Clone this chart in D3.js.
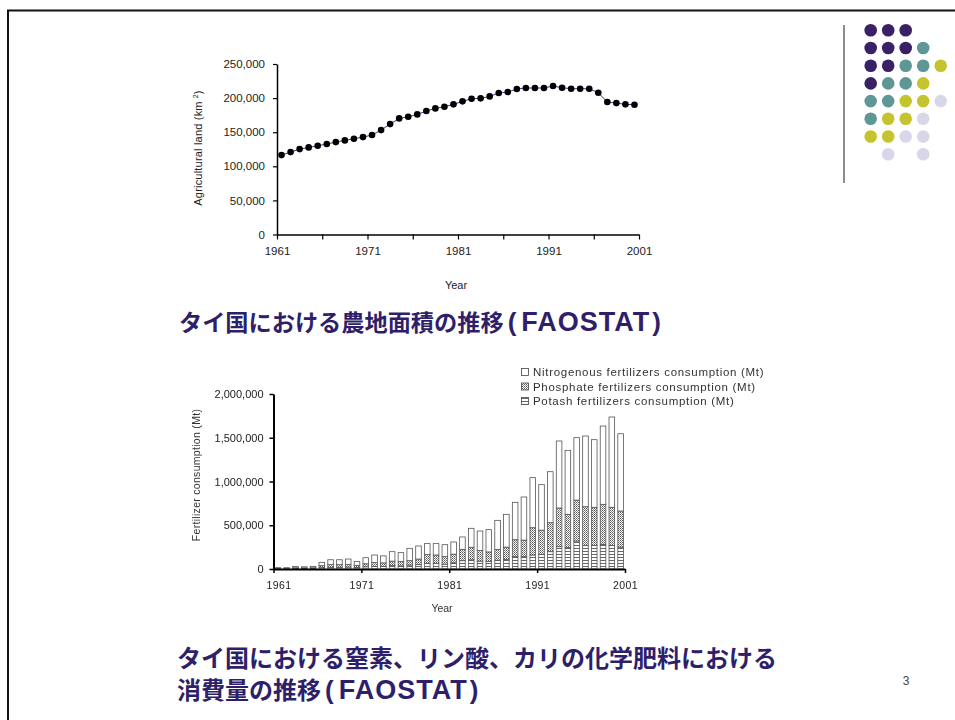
<!DOCTYPE html>
<html>
<head>
<meta charset="utf-8">
<script src="https://cdn.jsdelivr.net/npm/d3@7"></script>
<style>
  html, body { margin: 0; padding: 0; background: #fff; }
  svg { display: block; }
  .tick text { font-family: "Liberation Sans", Arial, sans-serif; fill: #222; }
</style>
</head>
<body>
<svg id="slide" width="955" height="720"></svg>
<script>
// ---- Agricultural land, Thailand (km²), 1961–2000 ----
const landYears = d3.range(1961, 2001);
const landArea = [
  116400, 120800, 125200, 127700, 130100, 132600, 135500, 138000, 140400, 142800,
  145800, 153100, 161900, 170200, 172700, 176100, 181000, 184900, 187400, 190800,
  195200, 199100, 199600, 202500, 207400, 208900, 213300, 214800, 214800, 214800,
  217700, 215200, 213800, 213800, 213800, 207900, 194200, 192700, 190800, 190300
];
const landTicksY = [0, 50000, 100000, 150000, 200000, 250000];
const landTicksX = [1961, 1966, 1971, 1976, 1981, 1986, 1991, 1996, 2001];
const landLabelsX = [1961, 1971, 1981, 1991, 2001];

// ---- Fertilizer consumption, Thailand (t), 1961–2000 ----
const fertYears = d3.range(1961, 2001);
const nitrogen = [
  8000, 8000, 16000, 13000, 16000, 38000, 56000, 56000, 62000, 45000,
  69000, 85000, 80000, 108000, 102000, 141000, 149000, 125000, 130000, 137000,
  139000, 141000, 217000, 221000, 255000, 334000, 375000, 427000, 493000, 572000,
  520000, 583000, 766000, 731000, 714000, 808000, 773000, 895000, 1032000, 883000
];
const phosphate = [
  5000, 5000, 9000, 8000, 9000, 23000, 30000, 30000, 30000, 25000,
  35000, 45000, 42000, 52000, 50000, 50000, 64000, 100000, 95000, 86000,
  100000, 130000, 143000, 123000, 110000, 122000, 140000, 194000, 189000, 312000,
  276000, 331000, 442000, 381000, 467000, 445000, 438000, 457000, 438000, 413000
];
const potash = [
  2000, 2000, 5000, 4000, 5000, 15000, 20000, 20000, 22000, 17000,
  25000, 30000, 28000, 38000, 35000, 45000, 50000, 65000, 65000, 55000,
  70000, 95000, 105000, 90000, 85000, 100000, 110000, 141000, 141000, 160000,
  168000, 198000, 255000, 244000, 320000, 267000, 267000, 282000, 267000, 250000
];
const fertTicksY = [0, 500000, 1000000, 1500000, 2000000];
const fertLabelsX = [1961, 1971, 1981, 1991, 2001];
const fertSeries = [
  "Nitrogenous fertilizers consumption (Mt)",
  "Phosphate fertilizers consumption (Mt)",
  "Potash fertilizers consumption (Mt)"
];

// ---- Slide texts: Japanese part, then the source tag ----
const title1 = "タイ国における農地面積の推移";
const title2 = ["タイ国における窒素、リン酸、カリの化学肥料における", "消費量の推移"];
const sourceTag = "FAOSTAT";
const pageNumber = "3";

// ---- Corner dot ornament (P purple, T teal, Y olive, L lavender) ----
const ornamentRows = ["PPP..", "PPPT.", "PPTTY", "PTTY.", "TTYYL", "TYYL.", "YYLL.", ".L.L."];
const ornamentColors = { P: "#3a2166", T: "#5f9696", Y: "#c6c42e", L: "#d8d7ea" };

const svg = d3.select("#slide");
const sans = '"Liberation Sans", Arial, sans-serif';
const jp = '"Noto Sans CJK JP", "Noto Sans CJK SC", sans-serif';
const titleColor = "#2f1f6b";

// Slide frame
svg.append("line").attr("x1", 7).attr("x2", 955).attr("y1", 10.5).attr("y2", 10.5)
  .attr("stroke", "#111").attr("stroke-width", 2);
svg.append("line").attr("x1", 8).attr("x2", 8).attr("y1", 10).attr("y2", 720)
  .attr("stroke", "#111").attr("stroke-width", 2);

// Ornament
svg.append("line").attr("x1", 844).attr("x2", 844).attr("y1", 25).attr("y2", 183)
  .attr("stroke", "#666").attr("stroke-width", 1.5);
const orn = svg.append("g");
ornamentRows.forEach((row, r) => {
  row.split("").forEach((c, k) => {
    if (c === ".") return;
    orn.append("circle")
      .attr("cx", 870.7 + k * 17.5).attr("cy", 30.3 + r * 17.7).attr("r", 6.3)
      .attr("fill", ornamentColors[c]);
  });
});

// Title helper: bold Japanese text followed by "(FAOSTAT)" in a bold Latin face
function title(x, y, jpText, size, withTag) {
  const t = svg.append("text").attr("x", x).attr("y", y).attr("fill", titleColor)
    .style("font-weight", 700);
  t.append("tspan").style("font-family", jp).style("font-size", size + "px").text(jpText);
  if (withTag) {
    t.append("tspan").attr("dx", 4).style("font-family", sans).style("font-size", "26px").text("(");
    t.append("tspan").attr("dx", 5).style("font-family", sans).style("font-size", "27px")
      .style("letter-spacing", "1px").text(sourceTag);
    t.append("tspan").attr("dx", 2).style("font-family", sans).style("font-size", "26px").text(")");
  }
}

// =========== Chart 1: agricultural land ===========
const xL = d3.scaleLinear().domain([1961, 2001]).range([277, 639]);
const yL = d3.scaleLinear().domain([0, 250000]).range([234.5, 64]);
const stepL = xL(1962) - xL(1961);

const g1 = svg.append("g");
const ax1y = g1.append("g").attr("transform", `translate(${xL(1961)},0)`)
  .call(d3.axisLeft(yL).tickValues(landTicksY).tickSize(4).tickSizeOuter(0)
    .tickPadding(8).tickFormat(d3.format(",")));
const ax1x = g1.append("g").attr("transform", `translate(0,${yL(0)})`)
  .call(d3.axisBottom(xL).tickValues(landTicksX).tickSize(5).tickSizeOuter(0).tickPadding(7)
    .tickFormat(d => landLabelsX.includes(d) ? d : ""));
[ax1y, ax1x].forEach(a => {
  a.select(".domain").attr("stroke", "#000").attr("stroke-width", 1.5);
  a.selectAll(".tick line").attr("stroke", "#000").attr("stroke-width", 1.2);
  a.selectAll(".tick text").style("font-size", "11.5px").attr("fill", "#222");
});

const line1 = d3.line().x((d, i) => xL(landYears[i]) + stepL / 2).y(d => yL(d));
g1.append("path").datum(landArea).attr("d", line1)
  .attr("fill", "none").attr("stroke", "#3a3a8c").attr("stroke-width", 1);
g1.selectAll("circle.pt").data(landArea).join("circle").attr("class", "pt")
  .attr("cx", (d, i) => xL(landYears[i]) + stepL / 2).attr("cy", d => yL(d))
  .attr("r", 3.3).attr("fill", "#000");

const yl1 = g1.append("text").attr("transform", "translate(202,148) rotate(-90)")
  .attr("text-anchor", "middle").style("font-family", sans).style("font-size", "11px")
  .style("letter-spacing", "0.2px").attr("fill", "#222");
yl1.append("tspan").text("Agricultural land (km");
yl1.append("tspan").attr("dx", 3).attr("dy", -4).style("font-size", "7px").text("2");
yl1.append("tspan").attr("dy", 4).text(")");
g1.append("text").attr("x", 456).attr("y", 289).attr("text-anchor", "middle")
  .style("font-family", sans).style("font-size", "11px").attr("fill", "#222").text("Year");

title(179, 331, title1, 23.2, true);

// =========== Chart 2: fertilizer consumption ===========
const defs = svg.append("defs");
const blur = defs.append("filter").attr("id", "soft");
blur.append("feGaussianBlur").attr("stdDeviation", 0.35);

const pP = defs.append("pattern").attr("id", "patP").attr("patternUnits", "userSpaceOnUse")
  .attr("width", 2).attr("height", 2);
pP.append("rect").attr("width", 2).attr("height", 2).attr("fill", "#fff");
pP.append("rect").attr("width", 1).attr("height", 1).attr("fill", "#555");
pP.append("rect").attr("x", 1).attr("y", 1).attr("width", 1).attr("height", 1).attr("fill", "#888");

const pK = defs.append("pattern").attr("id", "patK").attr("patternUnits", "userSpaceOnUse")
  .attr("width", 3).attr("height", 3);
pK.append("rect").attr("width", 3).attr("height", 3).attr("fill", "#fff");
pK.append("rect").attr("y", 2).attr("width", 3).attr("height", 1).attr("fill", "#666");

const fills = { nitrogen: "#fff", phosphate: "url(#patP)", potash: "url(#patK)" };

const xF = d3.scaleLinear().domain([1961, 2001]).range([273.5, 625]);
const yF = d3.scaleLinear().domain([0, 2000000]).range([569, 394]);
const stepF = xF(1962) - xF(1961);
const barW = 5.6;

const table = fertYears.map((y, i) => ({ year: y, nitrogen: nitrogen[i], phosphate: phosphate[i], potash: potash[i] }));
const stacked = d3.stack().keys(["potash", "phosphate", "nitrogen"])(table);

const g2 = svg.append("g").attr("filter", "url(#soft)");
stacked.forEach(layer => {
  g2.append("g").selectAll("rect").data(layer).join("rect")
    .attr("x", d => xF(d.data.year) + stepF / 2 - barW / 2)
    .attr("width", barW)
    .attr("y", d => yF(d[1]))
    .attr("height", d => yF(d[0]) - yF(d[1]))
    .attr("fill", fills[layer.key])
    .attr("stroke", "#555").attr("stroke-width", 0.8);
});

const ax2y = g2.append("g").attr("transform", `translate(${xF(1961)},0)`)
  .call(d3.axisLeft(yF).tickValues(fertTicksY).tickSize(4).tickSizeOuter(0)
    .tickPadding(6).tickFormat(d3.format(",")));
const ax2x = g2.append("g").attr("transform", `translate(0,${yF(0)})`)
  .call(d3.axisBottom(xF).tickValues(fertLabelsX).tickSize(4).tickSizeOuter(0).tickPadding(9)
    .tickFormat(d3.format("d")));
[ax2y, ax2x].forEach(a => {
  a.select(".domain").attr("stroke", "#000").attr("stroke-width", 2);
  a.selectAll(".tick line").attr("stroke", "#000").attr("stroke-width", 1.5);
  a.selectAll(".tick text").style("font-size", "10.5px").attr("fill", "#333");
});
ax2y.selectAll(".tick text").style("font-size", "11px");
ax2x.selectAll(".tick text").style("letter-spacing", "0.4px");
ax2x.selectAll(".tick text").filter(d => d === 1961).attr("dx", 5);

g2.append("text").attr("transform", "translate(200,475) rotate(-90)")
  .attr("text-anchor", "middle").style("font-family", sans).style("font-size", "10.5px")
  .style("letter-spacing", "0.3px").attr("fill", "#333").text("Fertilizer consumption (Mt)");
g2.append("text").attr("x", 442).attr("y", 612).attr("text-anchor", "middle")
  .style("font-family", sans).style("font-size", "10.5px").attr("fill", "#333").text("Year");

// Legend
const legFills = [fills.nitrogen, fills.phosphate, fills.potash];
const leg = g2.append("g");
fertSeries.forEach((s, i) => {
  const cy = 372 + i * 14.5;
  leg.append("rect").attr("x", 521.5).attr("y", cy - 3.5).attr("width", 7).attr("height", 7)
    .attr("fill", legFills[i]).attr("stroke", "#444").attr("stroke-width", 0.8);
  leg.append("text").attr("x", 533).attr("y", cy + 4)
    .style("font-family", sans).style("font-size", "11.5px").style("letter-spacing", "0.7px")
    .attr("fill", "#333").text(s);
});

// Title 2
title(177, 667, title2[0], 24, false);
title(177, 699, title2[1], 24, true);

// Page number
svg.append("text").attr("x", 906).attr("y", 685).attr("text-anchor", "middle")
  .style("font-family", sans).style("font-size", "12px").attr("fill", "#444").text(pageNumber);
</script>
</body>
</html>
